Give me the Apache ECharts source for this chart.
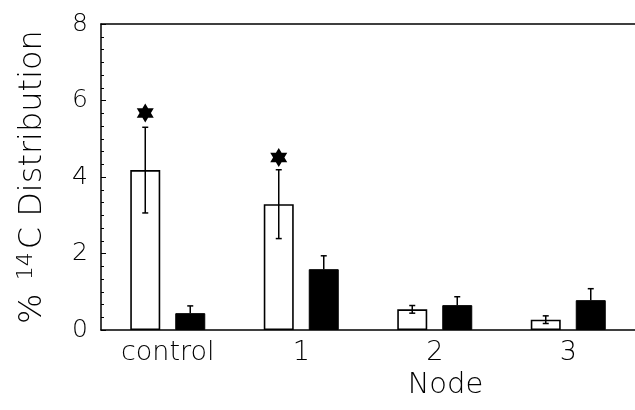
<!DOCTYPE html>
<html>
<head>
<meta charset="utf-8">
<script src="https://cdn.jsdelivr.net/npm/echarts@6/dist/echarts.min.js"></script>
<style>html,body{margin:0;padding:0;background:#fff}#c{width:635px;height:410px}</style>
</head>
<body>
<div id="c"></div>
<script>
var categories = ['control', '1', '2', '3'];
var yTicks = [0, 2, 4, 6, 8];
var whiteMean = [4.18, 3.29, 0.54, 0.27];
var whiteErr = [1.12, 0.90, 0.10, 0.10];
var blackMean = [0.44, 1.59, 0.65, 0.78];
var blackErr = [0.19, 0.35, 0.22, 0.30];
var starY = [5.67, 4.51, null, null];

var FONT = 'DejaVu Sans';
var FW = 200;
var OFF = 22.5;
var starPath = 'path://M0,-10L2.887,-5L8.66,-5L5.774,0L8.66,5L2.887,5L0,10L-2.887,5L-8.66,5L-5.774,0L-8.66,-5L-2.887,-5Z';

function errRender(offset, both) {
  return function (params, api) {
    var i = api.value(0), m = api.value(1), e = api.value(2);
    var top = api.coord([i, m + e]);
    var bot = api.coord([i, both ? m - e : m]);
    var x = top[0] + offset;
    var cap = 3;
    var st = { stroke: '#000', lineWidth: 1.5 };
    var children = [
      { type: 'line', shape: { x1: x, y1: top[1], x2: x, y2: bot[1] }, style: st },
      { type: 'line', shape: { x1: x - cap, y1: top[1], x2: x + cap, y2: top[1] }, style: st }
    ];
    if (both) children.push({ type: 'line', shape: { x1: x - cap, y1: bot[1], x2: x + cap, y2: bot[1] }, style: st });
    return { type: 'group', children: children };
  };
}

var chart = echarts.init(document.getElementById('c'));
chart.setOption({
  animation: false,
  backgroundColor: '#fff',
  grid: { left: 101, top: 24, width: 537, height: 306, containLabel: false },
  xAxis: [{
    type: 'category',
    data: categories,
    position: 'bottom',
    axisLine: { lineStyle: { color: '#000', width: 1.5 } },
    axisTick: { show: false },
    axisLabel: { color: '#000', fontFamily: FONT, fontWeight: FW, fontSize: 27, margin: 9 },
    name: 'Node',
    nameLocation: 'middle',
    nameGap: 37,
    nameTextStyle: { color: '#000', fontFamily: FONT, fontWeight: FW, fontSize: 29, padding: [0, 0, 0, 155] }
  }, {
    type: 'category',
    data: categories,
    position: 'top',
    axisLine: { show: true, lineStyle: { color: '#000', width: 1.5 } },
    axisTick: { show: false },
    axisLabel: { show: false }
  }],
  yAxis: {
    type: 'value',
    min: yTicks[0],
    max: yTicks[yTicks.length - 1],
    interval: 2,
    axisLine: { show: true, lineStyle: { color: '#000', width: 1.5 } },
    axisTick: { show: true, inside: true, length: 5, lineStyle: { color: '#000', width: 1 } },
    minorTick: { show: true, splitNumber: 6, length: 3, lineStyle: { color: '#000', width: 1 } },
    splitLine: { show: false },
    axisLabel: { color: '#000', fontFamily: FONT, fontWeight: FW, fontSize: 25, margin: 13 },
    name: '{a|%} {s|14}{a|C Distribution}',
    nameLocation: 'middle',
    nameGap: 50,
    nameTextStyle: {
      color: '#000', fontFamily: FONT, fontWeight: FW, fontSize: 32,
      rich: {
        a: { fontFamily: FONT, fontWeight: FW, fontSize: 32, color: '#000' },
        s: { fontFamily: FONT, fontWeight: FW, fontSize: 22, color: '#000', padding: [0, 3, 14, 3] }
      }
    }
  },
  series: [{
    type: 'bar',
    data: whiteMean,
    barWidth: 30,
    barGap: '50%',
    itemStyle: { color: '#fff', borderColor: '#000', borderWidth: 1.6 }
  }, {
    type: 'bar',
    data: blackMean,
    barWidth: 30,
    barGap: '50%',
    itemStyle: { color: '#000', borderColor: '#000', borderWidth: 1 }
  }, {
    type: 'custom',
    renderItem: errRender(-OFF, true),
    data: categories.map(function (c, i) { return [i, whiteMean[i], whiteErr[i]]; }),
    z: 10
  }, {
    type: 'custom',
    renderItem: errRender(OFF, false),
    data: categories.map(function (c, i) { return [i, blackMean[i], blackErr[i]]; }),
    z: 10
  }, {
    type: 'scatter',
    data: starY,
    symbol: starPath,
    symbolSize: [17, 19],
    symbolOffset: [-OFF, 0],
    itemStyle: { color: '#000', opacity: 1 },
    z: 11
  }]
});
</script>
</body>
</html>
